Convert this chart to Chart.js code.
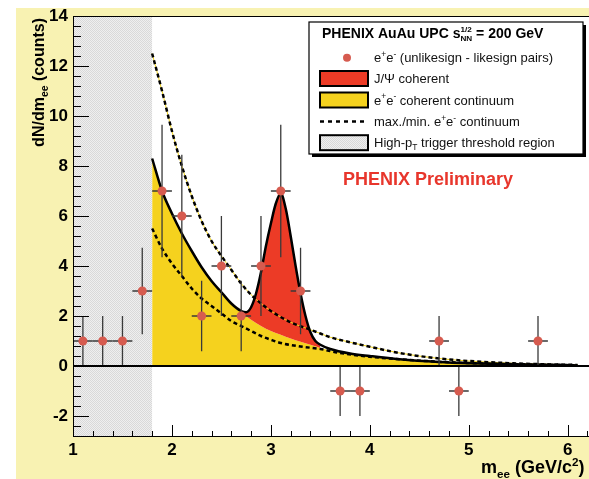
<!DOCTYPE html>
<html><head><meta charset="utf-8">
<script src="https://cdn.jsdelivr.net/npm/chart.js@4.4.1/dist/chart.umd.min.js"></script>
<style>html,body{margin:0;padding:0;background:#fff;overflow:hidden}canvas{display:block}</style>
</head><body>
<canvas id="c" width="589" height="479"></canvas>
<script>
// ---- data ----
const binCenters = [1.1,1.3,1.5,1.7,1.9,2.1,2.3,2.5,2.7,2.9,3.1,3.3,3.7,3.9,4.7,4.9,5.7];
const counts     = [1,1,1,3,7,6,2,4,2,4,7,3,-1,-1,1,-1,1];
const countErr   = [1,1,1,1.73,2.65,2.45,1.41,2,1.41,2,2.65,1.73,1,1,1,1,1];
const binHalfWidth = 0.1;

const contX = [1.8,1.9,2.0,2.1,2.2,2.3,2.4,2.5,2.6,2.7,2.8,2.9,3.0,3.1,3.2,3.3,3.4,3.5,3.6,3.8,4.0,4.3,4.7,5.0,5.5,6.0,6.1];
const contY = [8.3,7.0,6.1,5.3,4.6,3.95,3.4,2.95,2.5,2.15,1.85,1.6,1.4,1.25,1.1,0.97,0.85,0.72,0.6,0.47,0.37,0.25,0.15,0.1,0.06,0.03,0.02];

const totalX = [1.8,1.9,2.0,2.1,2.2,2.3,2.4,2.5,2.6,2.7,2.75,2.8,2.85,2.9,2.95,3.0,3.05,3.1,3.15,3.2,3.25,3.3,3.35,3.4,3.45,3.5,3.6,3.8,4.0,4.3,4.7,5.0,5.5,6.0,6.1];
const totalY = [8.3,7.0,6.1,5.3,4.6,3.95,3.4,2.95,2.5,2.2,2.15,2.35,2.9,3.75,4.8,5.7,6.5,6.9,6.3,5.2,4.0,2.9,2.0,1.35,1.0,0.85,0.68,0.5,0.4,0.27,0.16,0.11,0.06,0.03,0.02];

const jpsiX = [2.7,2.75,2.8,2.85,2.9,2.95,3.0,3.05,3.1,3.15,3.2,3.25,3.3,3.35,3.4,3.45,3.5];
const jpsiY = [2.2,2.15,2.35,2.9,3.75,4.8,5.7,6.5,6.9,6.3,5.2,4.0,2.9,2.0,1.35,1.0,0.8];

const maxX = [1.8,1.9,2.0,2.1,2.2,2.3,2.4,2.5,2.6,2.7,2.8,2.9,3.0,3.2,3.4,3.5,3.6,3.8,4.0,4.3,4.7,5.0,5.5,6.0,6.1];
const maxY = [12.5,11.0,9.4,8.0,6.8,5.8,5.0,4.4,3.85,3.3,2.85,2.5,2.2,1.75,1.45,1.3,1.15,0.95,0.77,0.52,0.3,0.2,0.1,0.05,0.04];

const minX = [1.8,1.9,2.0,2.1,2.2,2.3,2.4,2.5,2.6,2.7,2.8,2.9,3.0,3.1,3.3,3.5,3.7,4.0,4.3,4.7,5.0,5.5,6.0,6.1];
const minY = [5.5,4.7,4.1,3.6,3.1,2.7,2.4,2.1,1.8,1.6,1.4,1.2,1.05,0.92,0.78,0.68,0.52,0.37,0.27,0.17,0.12,0.07,0.04,0.03];

const thresholdX = [1.0, 1.8];
const thresholdTop = [14, 14];

const xTicks = [1,2,3,4,5,6];
const yTicks = [-2,0,2,4,6,8,10,12,14];
const xRange = [1, 6.17];
const yRange = [-2.84, 14];

// ---- styling ----
const FONT = '"Liberation Sans", Arial, Helvetica, sans-serif';
const C_BG = '#f8f2b2', C_YEL = '#f5d21e', C_RED = '#ec3b26', C_PT = '#d65b4f';

const canvas = document.getElementById('c');
const ctx0 = canvas.getContext('2d');
function makeHatch() {
  const c = document.createElement('canvas'); c.width = 2; c.height = 2;
  const g = c.getContext('2d');
  g.fillStyle = '#efefef'; g.fillRect(0,0,2,2);
  g.fillStyle = '#d9d9d9'; g.fillRect(0,0,1,1); g.fillRect(1,1,1,1);
  return ctx0.createPattern(c, 'repeat');
}
const hatch = makeHatch();
const pts = (xs, ys) => xs.map((x, i) => ({x, y: ys[i]}));

function drawRich(ctx, x, y, parts, size, weight, color) {
  let cx = x;
  ctx.fillStyle = color; ctx.textBaseline = 'alphabetic'; ctx.textAlign = 'left';
  for (const p of parts) {
    if (p.stack) {
      ctx.font = `${weight} ${size*0.58}px ${FONT}`;
      const w1 = ctx.measureText(p.sup).width, w2 = ctx.measureText(p.sub).width;
      ctx.fillText(p.sup, cx, y - size*0.45);
      ctx.fillText(p.sub, cx, y + size*0.22);
      cx += Math.max(w1, w2);
      continue;
    }
    const s = (p.sub || p.sup) ? size*0.65 : size;
    ctx.font = `${weight} ${s}px ${FONT}`;
    const dy = p.sub ? size*0.25 : p.sup ? -size*0.4 : 0;
    ctx.fillText(p.t, cx, y + dy);
    cx += ctx.measureText(p.t).width;
  }
  return cx - x;
}
function richWidth(ctx, parts, size, weight) {
  ctx.save(); ctx.globalAlpha = 0;
  const w = drawRich(ctx, 0, 0, parts, size, weight, '#000');
  ctx.restore(); return w;
}

const bgPlugin = {
  id: 'bg',
  beforeDraw(chart) {
    const {ctx, chartArea: a} = chart;
    const W = chart.canvas.width, H = chart.canvas.height;
    ctx.save();
    ctx.fillStyle = '#fff'; ctx.fillRect(0, 0, W, H);
    ctx.fillStyle = C_BG; ctx.fillRect(16, 8, W - 16, H - 8);
    ctx.fillStyle = '#fff'; ctx.fillRect(a.left, a.top, W + 20 - a.left, a.bottom - a.top);
    ctx.restore();
  },
  beforeDatasetsDraw(chart) {
    const {ctx, chartArea: a} = chart;
    const W = chart.canvas.width;
    ctx.save();
    ctx.fillStyle = '#fff';
    ctx.fillRect(a.right - 1, a.top, W - a.right + 20, a.bottom - a.top);
    ctx.restore();
  }
};

const errPlugin = {
  id: 'err',
  beforeDatasetDraw(chart, args) {
    if (args.index !== 0) return;
    const {ctx, scales: {x, y}} = chart;
    ctx.save();
    ctx.strokeStyle = '#3a3a3a'; ctx.lineWidth = 1.3;
    binCenters.forEach((bx, i) => {
      const px = x.getPixelForValue(bx), py = y.getPixelForValue(counts[i]);
      ctx.beginPath();
      ctx.moveTo(px, y.getPixelForValue(counts[i] - countErr[i]));
      ctx.lineTo(px, y.getPixelForValue(counts[i] + countErr[i]));
      ctx.moveTo(x.getPixelForValue(bx - binHalfWidth), py);
      ctx.lineTo(x.getPixelForValue(bx + binHalfWidth), py);
      ctx.stroke();
    });
    ctx.restore();
  }
};

const framePlugin = {
  id: 'frame',
  afterDatasetsDraw(chart) {
    const {ctx, chartArea: a, scales: {x, y}} = chart;
    const W = chart.canvas.width;
    ctx.save();
    ctx.strokeStyle = '#000';
    ctx.lineWidth = 2;
    ctx.beginPath(); ctx.moveTo(a.left, y.getPixelForValue(0)); ctx.lineTo(W, y.getPixelForValue(0)); ctx.stroke();
    ctx.lineWidth = 1;
    ctx.strokeRect(a.left + 0.5, a.top + 0.5, W - a.left + 5, a.bottom - a.top - 1);
    const ys = yTicks[1] - yTicks[0];
    for (let v = yTicks[0] - ys; v <= yTicks[yTicks.length-1] + 1e-9; v += ys/5) {
      if (v < yRange[0] || v > yRange[1]) continue;
      const major = yTicks.some(t => Math.abs(t - v) < 1e-6);
      const py = Math.round(y.getPixelForValue(v)) + 0.5;
      ctx.beginPath(); ctx.moveTo(a.left, py); ctx.lineTo(a.left + (major ? 16 : 8), py); ctx.stroke();
    }
    const xs = xTicks[1] - xTicks[0];
    for (let v = xTicks[0]; v <= xRange[1] + 0.2; v += xs/5) {
      const major = xTicks.some(t => Math.abs(t - v) < 1e-6);
      const px = Math.round(x.getPixelForValue(v)) + 0.5;
      ctx.beginPath(); ctx.moveTo(px, a.bottom); ctx.lineTo(px, a.bottom - (major ? 12 : 6)); ctx.stroke();
    }
    ctx.restore();

    // legend
    ctx.save();
    const L = {x: 309, y: 22, w: 274, h: 132};
    ctx.fillStyle = '#000'; ctx.fillRect(L.x + 3, L.y + 3, L.w, L.h);
    ctx.fillStyle = '#fff'; ctx.fillRect(L.x, L.y, L.w, L.h);
    ctx.lineWidth = 1.2; ctx.strokeStyle = '#000'; ctx.strokeRect(L.x, L.y, L.w, L.h);
    drawRich(ctx, 322, 38, [{t:'PHENIX AuAu UPC s'}, {stack:true, sup:'1/2', sub:'NN'}, {t:' = 200 GeV'}], 14, 'bold', '#000');
    const rows = [57.7, 78.5, 100, 121.5, 142.7];
    const sx = 320, sw = 48, sh = 15;
    ctx.fillStyle = C_PT; ctx.beginPath(); ctx.arc(347, rows[0], 4, 0, Math.PI*2); ctx.fill();
    [[1, C_RED], [2, C_YEL], [4, hatch]].forEach(([r, col]) => {
      ctx.fillStyle = col; ctx.fillRect(sx, rows[r] - sh/2, sw, sh);
      ctx.lineWidth = 2; ctx.strokeStyle = '#000'; ctx.strokeRect(sx, rows[r] - sh/2, sw, sh);
    });
    ctx.setLineDash([4, 4]); ctx.lineWidth = 2.5;
    ctx.beginPath(); ctx.moveTo(sx, rows[3]); ctx.lineTo(sx + sw, rows[3]); ctx.stroke();
    ctx.setLineDash([]);
    const tx = 374, fs = 13, off = 4.5;
    const ee = [{t:'e'}, {sup:true, t:'+'}, {t:'e'}, {sup:true, t:'-'}];
    drawRich(ctx, tx, rows[0] + off, [...ee, {t:' (unlikesign - likesign pairs)'}], fs, 'normal', '#111');
    drawRich(ctx, tx, rows[1] + off, [{t:'J/\u03A8 coherent'}], fs, 'normal', '#111');
    drawRich(ctx, tx, rows[2] + off, [...ee, {t:' coherent continuum'}], fs, 'normal', '#111');
    drawRich(ctx, tx, rows[3] + off, [{t:'max./min. '}, ...ee, {t:' continuum'}], fs, 'normal', '#111');
    drawRich(ctx, tx, rows[4] + off, [{t:'High-p'}, {sub:true, t:'T'}, {t:' trigger threshold region'}], fs, 'normal', '#111');

    ctx.font = `bold 18px ${FONT}`; ctx.fillStyle = '#e8362c'; ctx.textBaseline = 'alphabetic';
    ctx.fillText('PHENIX Preliminary', 343, 185);

    drawRich(ctx, 481, 473, [{t:'m'}, {sub:true, t:'ee'}, {t:' (GeV/c'}, {sup:true, t:'2'}, {t:')'}], 18, 'bold', '#000');
    const yParts = [{t:'dN/dm'}, {sub:true, t:'ee'}, {t:' (counts)'}];
    const yw = richWidth(ctx, yParts, 16, 'bold');
    ctx.translate(44, 18 + yw); ctx.rotate(-Math.PI/2);
    drawRich(ctx, 0, 0, yParts, 16, 'bold', '#000');
    ctx.restore();
  }
};

const none = 'rgba(0,0,0,0)';
const tickFont = {family: FONT, size: 17, weight: 'bold'};

new Chart(canvas, {
  type: 'line',
  data: { datasets: [
    {label: 'data', data: pts(binCenters, counts), showLine: false, pointRadius: 4.5, pointBackgroundColor: C_PT, pointBorderWidth: 0, pointBorderColor: none, order: 0},
    {label: 'total', data: pts(totalX, totalY), borderColor: '#000', borderWidth: 2.5, pointRadius: 0, fill: false, cubicInterpolationMode: 'monotone', order: 1},
    {label: 'max', data: pts(maxX, maxY), borderColor: '#000', borderDash: [4, 3], borderWidth: 2.5, pointRadius: 0, fill: false, cubicInterpolationMode: 'monotone', order: 2},
    {label: 'min', data: pts(minX, minY), borderColor: '#000', borderDash: [4, 3], borderWidth: 2.5, pointRadius: 0, fill: false, cubicInterpolationMode: 'monotone', order: 2},
    {label: 'max-y', data: pts(maxX, maxY), borderColor: '#f0d21a', borderWidth: 1, pointRadius: 0, fill: false, cubicInterpolationMode: 'monotone', order: 3},
    {label: 'min-y', data: pts(minX, minY), borderColor: '#f0d21a', borderWidth: 1, pointRadius: 0, fill: false, cubicInterpolationMode: 'monotone', order: 3},
    {label: 'jpsi', data: pts(jpsiX, jpsiY), borderColor: none, borderWidth: 0.01, backgroundColor: C_RED, pointRadius: 0, fill: 7, cubicInterpolationMode: 'monotone', order: 4},
    {label: 'cont', data: pts(contX, contY), borderColor: none, borderWidth: 0.01, backgroundColor: C_YEL, pointRadius: 0, fill: 'origin', cubicInterpolationMode: 'monotone', order: 5},
    {label: 'threshold', data: pts(thresholdX, thresholdTop), borderColor: none, borderWidth: 0.01, backgroundColor: hatch, pointRadius: 0, fill: 'start', order: 6}
  ]},
  options: {
    responsive: false, animation: false, devicePixelRatio: 1, events: [],
    layout: {padding: {top: 16, left: 0, right: 0, bottom: 0}},
    plugins: {legend: {display: false}, tooltip: {enabled: false}},
    scales: {
      x: {type: 'linear', min: xRange[0], max: xRange[1],
          afterBuildTicks: s => { s.ticks = xTicks.map(v => ({value: v})); },
          afterFit: s => { s.height = 42; s.paddingLeft = 0; s.paddingRight = 0; },
          grid: {display: false, drawTicks: false}, border: {display: false},
          ticks: {font: tickFont, color: '#000', padding: 3, maxRotation: 0, autoSkip: false}},
      y: {type: 'linear', min: yRange[0], max: yRange[1],
          afterBuildTicks: s => { s.ticks = yTicks.map(v => ({value: v})); },
          afterFit: s => { s.width = 73; s.paddingTop = 0; s.paddingBottom = 0; },
          grid: {display: false, drawTicks: false}, border: {display: false},
          ticks: {font: tickFont, color: '#000', padding: 5, autoSkip: false}}
    }
  },
  plugins: [bgPlugin, errPlugin, framePlugin]
});
</script>
</body></html>
